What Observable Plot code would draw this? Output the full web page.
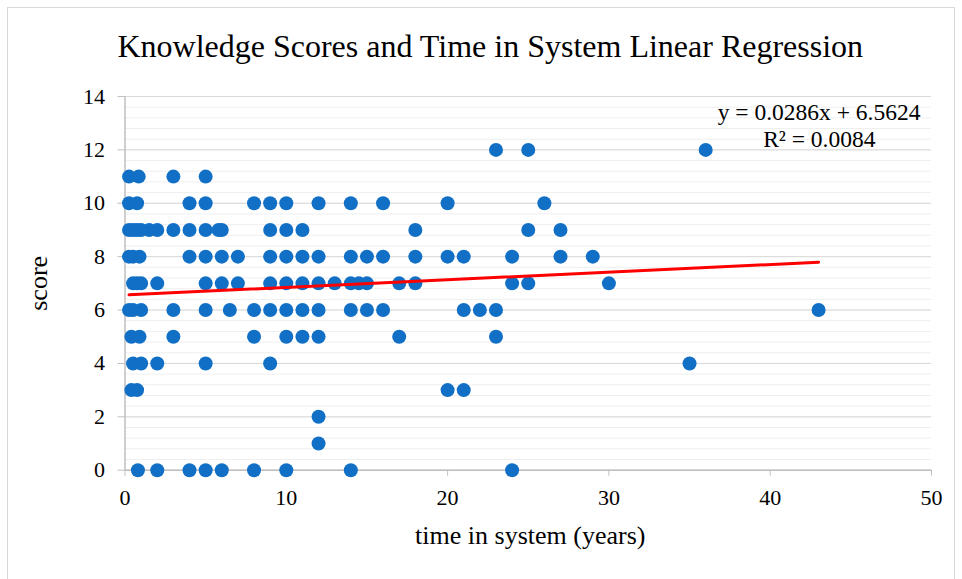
<!DOCTYPE html>
<html>
<head>
<meta charset="utf-8">
<script src="https://cdn.jsdelivr.net/npm/d3@7"></script>
<script src="https://cdn.jsdelivr.net/npm/@observablehq/plot@0.6"></script>
<style>
  html, body { margin: 0; padding: 0; background: #fff; }
  #frame { position: absolute; left: 7px; top: 7px; width: 948px; height: 580px; border: 1px solid #d9d9d9; box-sizing: border-box; }
  #chart { position: absolute; left: 0; top: 0; }
  #chart svg text { font-family: 'Liberation Serif', 'Times New Roman', serif; }
</style>
</head>
<body>
<div id="frame"></div>
<div id="chart"></div>
<script>
// ---- data ----
const score12 = [23, 25, 36];
const score11 = [0.25, 0.85, 3, 5];
const score10 = [0.25, 0.75, 4, 5, 8, 9, 10, 12, 14, 16, 20, 26];
const score9  = [0.25, 0.5, 0.75, 1, 1.5, 2, 3, 4, 5, 5.8, 6, 9, 10, 11, 18, 25, 27];
const score8  = [0.25, 0.5, 0.9, 4, 5, 6, 7, 9, 10, 11, 12, 14, 15, 16, 18, 20, 21, 24, 27, 29];
const score7  = [0.5, 0.75, 1, 2, 5, 6, 7, 9, 10, 11, 12, 13, 14, 14.5, 15, 17, 18, 24, 25, 30];
const score6  = [0.25, 0.5, 1, 3, 5, 6.5, 8, 9, 10, 11, 12, 14, 15, 16, 21, 22, 23, 43];
const score5  = [0.4, 0.9, 3, 8, 10, 11, 12, 17, 23];
const score4  = [0.5, 1, 2, 5, 9, 35];
const score3  = [0.4, 0.75, 20, 21];
const score2  = [12];
const score1  = [12];
const score0  = [0.8, 2, 4, 5, 6, 8, 10, 14, 24];

const scoreRows = [
  [0, score0], [1, score1], [2, score2], [3, score3], [4, score4], [5, score5],
  [6, score6], [7, score7], [8, score8], [9, score9], [10, score10], [11, score11], [12, score12]
];

const slope = 0.0286;
const intercept = 6.5624;
const equationLabel = "y = 0.0286x + 6.5624";
const r2Label = "R² = 0.0084";

const xTicks = [0, 10, 20, 30, 40, 50];
const yTicks = [0, 2, 4, 6, 8, 10, 12, 14];

const titleText = "Knowledge Scores and Time in System Linear Regression";
const xLabel = "time in system (years)";
const yLabel = "score";

// ---- build ----
const points = scoreRows.flatMap(([s, xs]) => xs.map(t => ({time: t, score: s})));
const xExt = d3.extent(points, d => d.time);
const trend = xExt.map(t => ({time: t, score: slope * t + intercept}));
const minorY = d3.range(0, 14.0001, 0.4);

const font = "'Liberation Serif', 'Times New Roman', serif";

const chart = Plot.plot({
  width: 962,
  height: 579,
  marginLeft: 124.5,
  marginRight: 31,
  marginTop: 96,
  marginBottom: 109.3,
  style: {fontFamily: font, fontSize: "22px", color: "#000", background: "transparent"},
  x: {domain: [0, 50]},
  y: {domain: [0, 14]},
  marks: [
    Plot.ruleY(minorY, {stroke: "#efefef", strokeWidth: 1}),
    Plot.ruleY(yTicks, {stroke: "#d9d9d9", strokeWidth: 1}),
    Plot.ruleY([0], {stroke: "#bfbfbf", strokeWidth: 1.5}),
    Plot.ruleX([0], {stroke: "#bfbfbf", strokeWidth: 1.5}),
    Plot.axisX({ticks: xTicks, tickSize: 6, stroke: "#bfbfbf", label: null, tickFormat: () => ""}),
    Plot.axisY({ticks: yTicks, tickSize: 7, stroke: "#bfbfbf", label: null, tickFormat: () => ""}),
    Plot.text(xTicks, {x: d => d, frameAnchor: "bottom", dy: 35, text: d => String(d), fontSize: 22, fontFamily: font, fill: "#000"}),
    Plot.text(yTicks, {y: d => d, frameAnchor: "left", dx: -20, textAnchor: "end", text: d => String(d), fontSize: 22, fontFamily: font, fill: "#000"}),
    Plot.dot(points, {x: "time", y: "score", r: 7, fill: "#1170c6", stroke: null}),
    Plot.line(trend, {x: "time", y: "score", stroke: "#ff0000", strokeWidth: 3}),
    Plot.text([equationLabel], {frameAnchor: "top-right", dx: -11, dy: 7, fontSize: 23.5, fontFamily: font, fill: "#000"}),
    Plot.text([r2Label], {frameAnchor: "top-right", dx: -56, dy: 34, fontSize: 23.5, fontFamily: font, fill: "#000"}),
    Plot.text([titleText], {frameAnchor: "top", dx: -38, dy: -62, fontSize: 32, fontFamily: font, fill: "#000"}),
    Plot.text([xLabel], {frameAnchor: "bottom", dx: 2, dy: 74, fontSize: 26, fontFamily: font, fill: "#000"}),
    Plot.text([yLabel], {frameAnchor: "left", dx: -86, rotate: -90, textAnchor: "middle", fontSize: 26, fontFamily: font, fill: "#000"})
  ]
});
document.getElementById("chart").append(chart);
</script>
</body>
</html>
